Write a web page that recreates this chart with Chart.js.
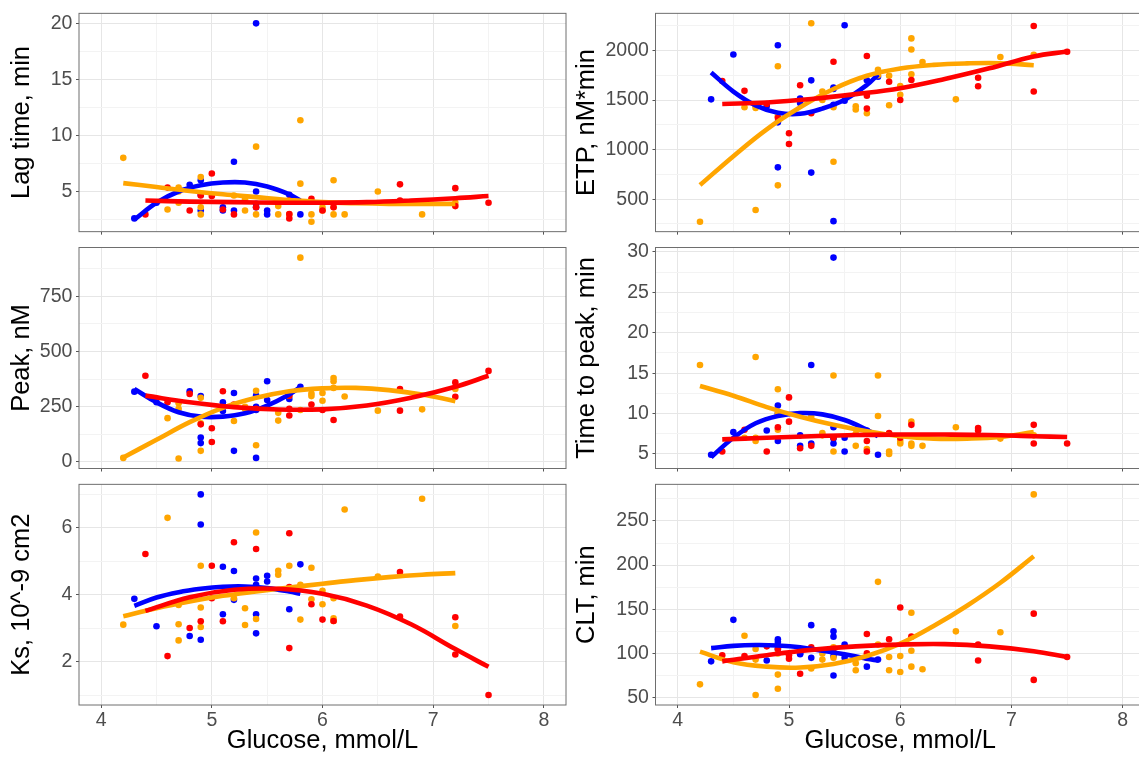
<!DOCTYPE html>
<html>
<head>
<meta charset="utf-8">
<script src="https://cdn.jsdelivr.net/npm/chart.js@4.4.1/dist/chart.umd.min.js"></script>
<style>
  html, body { margin: 0; padding: 0; background: #fff; overflow: hidden; }
  body { width: 1139px; height: 758px; position: relative; }
  canvas { position: absolute; }
</style>
</head>
<body>
<canvas id="lag"></canvas>
<canvas id="etp"></canvas>
<canvas id="peak"></canvas>
<canvas id="ttp"></canvas>
<canvas id="ks"></canvas>
<canvas id="clt"></canvas>
<script>
// Glucose of each patient, per group (the same patients appear in every panel)
const glucoseBlue = [4.3, 4.5, 4.8, 4.9, 4.9, 4.9, 5.1, 5.1, 5.2, 5.2, 5.4, 5.4, 5.4, 5.4, 5.5, 5.5, 5.7, 5.8];
const glucoseRed = [4.4, 4.6, 4.8, 4.9, 5.0, 5.0, 5.1, 5.2, 5.4, 5.7, 5.7, 5.7, 5.9, 6.0, 6.1, 6.7, 6.7, 7.2, 7.2, 7.5];
const glucoseOrange = [4.2, 4.6, 4.7, 4.7, 4.7, 4.9, 4.9, 4.9, 5.2, 5.3, 5.3, 5.4, 5.4, 5.6, 5.6, 5.7, 5.8, 5.8, 5.9, 5.9, 6.0, 6.0, 6.1, 6.1, 6.1, 6.2, 6.5, 6.9, 7.2];

const fitXBlue = [4.3, 4.5, 4.7, 4.9, 5.1, 5.3, 5.5, 5.7, 5.8];
const fitXOrange = [4.2, 4.5, 4.8, 5.1, 5.4, 5.7, 6.0, 6.3, 6.6, 6.9, 7.2];
const fitXRed = [4.4, 4.8, 5.2, 5.6, 6.0, 6.4, 6.8, 7.2, 7.5];

// Lag time, min
const lagBlue = [2.6, 4.0, 5.6, 6.0, 3.3, 4.7, 3.6, 3.3, 7.65, 3.3, 20, 5.0, 3.6, 3.9, 3.3, 2.96, 4.7, 2.96];
const lagRed = [2.96, 5.35, 3.3, 4.65, 6.6, 4.6, 3.4, 2.96, 3.6, 2.6, 4.2, 3.0, 4.35, 3.3, 3.6, 5.64, 4.2, 5.3, 3.7, 4.0];
const lagOrange = [8.0, 3.4, 5.35, 4.0, 5.0, 6.3, 2.96, 3.6, 4.65, 4.3, 3.3, 9.0, 2.96, 2.96, 3.7, 2.96, 11.36, 5.7, 2.3, 2.96, 3.6, 3.3, 6.0, 2.96, 3.6, 2.96, 5.0, 2.96, 4.0];
const lagFitBlue = [2.5, 4.0, 5.0, 5.55, 5.8, 5.8, 5.45, 4.75, 4.2];
const lagFitOrange = [5.75, 5.4, 5.05, 4.75, 4.5, 4.25, 4.05, 3.95, 3.9, 3.9, 3.9];
const lagFitRed = [4.2, 4.1, 4.05, 4.0, 4.0, 4.05, 4.2, 4.4, 4.6];

// ETP, nM*min
const etpBlue = [1507, 1960, 1440, 2053, 1275, 821, 1516, 1470, 1699, 768, 1626, 1612, 1453, 278, 2255, 1493, 1699, 1735];
const etpRed = [1692, 1593, 1460, 1321, 1165, 1056, 1649, 1367, 1887, 1944, 1543, 1414, 1685, 1500, 1702, 1725, 1639, 2248, 1586, 1987];
const etpOrange = [272, 1427, 1420, 391, 1440, 1841, 639, 1340, 2275, 1586, 1500, 1427, 877, 1437, 1404, 1367, 1805, 1750, 1745, 1447, 1642, 1553, 2122, 2010, 1760, 1884, 1507, 1934, 1957];
const etpFitBlue = [1778, 1586, 1447, 1371, 1361, 1414, 1503, 1652, 1758];
const etpFitOrange = [642, 934, 1205, 1427, 1612, 1745, 1818, 1855, 1870, 1872, 1851];
const etpFitRed = [1460, 1475, 1510, 1560, 1620, 1712, 1820, 1940, 1990];

// Peak, nM
const peakBlue = [318, 270, 320, 298, 110, 85, 270, 230, 312, 50, 300, 250, 235, 18, 365, 280, 285, 340];
const peakRed = [390, 270, 308, 170, 152, 90, 320, 260, 240, 210, 300, 240, 260, 235, 190, 330, 232, 360, 295, 412];
const peakOrange = [18, 198, 15, 265, 240, 50, 290, 175, 185, 250, 240, 322, 75, 222, 187, 300, 925, 235, 310, 298, 312, 277, 380, 365, 335, 296, 232, 238, 330];
const peakFitBlue = [330, 270, 225, 205, 205, 220, 255, 305, 340];
const peakFitOrange = [20, 100, 180, 245, 290, 320, 333, 335, 325, 305, 275];
const peakFitRed = [300, 270, 248, 237, 238, 255, 290, 340, 390];

// Time to peak, min
const ttpBlue = [4.9, 7.7, 7.9, 11.0, 10.0, 6.6, 7.3, 6.0, 16.0, 6.3, 29.3, 8.3, 6.9, 6.3, 5.3, 7.0, 7.9, 4.9];
const ttpRed = [5.3, 8.0, 5.3, 8.3, 12.0, 9.0, 5.7, 6.0, 7.0, 6.6, 5.3, 7.5, 7.6, 7.0, 8.6, 8.2, 7.9, 8.6, 6.3, 6.3];
const ttpOrange = [16.0, 7.0, 17.0, 6.6, 7.0, 13.0, 10.0, 8.0, 9.6, 7.6, 7.3, 14.7, 5.3, 6.0, 7.5, 5.6, 14.7, 9.7, 5.3, 5.0, 6.6, 6.3, 9.0, 6.3, 6.0, 6.0, 8.3, 6.9, 7.3];
const ttpFitBlue = [4.6, 7.0, 8.8, 9.7, 10.05, 9.9, 9.2, 8.0, 7.2];
const ttpFitOrange = [13.4, 12.2, 10.8, 9.6, 8.6, 7.8, 7.2, 6.9, 6.9, 7.1, 7.7];
const ttpFitRed = [6.8, 7.0, 7.2, 7.35, 7.4, 7.4, 7.35, 7.2, 7.1];

// Ks, 10^-9 cm2
const ksBlue = [3.88, 3.06, 2.77, 7.0, 6.1, 2.66, 4.84, 3.42, 4.71, 3.85, 4.49, 4.3, 3.42, 2.85, 4.57, 4.4, 3.57, 4.91];
const ksRed = [5.22, 2.17, 3.01, 3.21, 4.87, 3.9, 3.21, 5.57, 5.37, 5.84, 4.23, 2.41, 3.72, 3.26, 3.22, 4.68, 3.35, 3.33, 2.22, 1.01];
const ksOrange = [3.11, 6.3, 3.12, 2.64, 3.7, 4.87, 3.62, 3.04, 3.9, 3.6, 3.1, 5.86, 3.28, 4.72, 4.6, 4.87, 3.26, 4.3, 4.81, 3.87, 4.12, 3.72, 3.9, 3.3, 3.22, 6.55, 4.55, 6.87, 3.07];
const ksFitBlue = [3.67, 3.92, 4.08, 4.18, 4.24, 4.25, 4.2, 4.1, 4.03];
const ksFitOrange = [3.36, 3.6, 3.8, 3.97, 4.1, 4.22, 4.33, 4.44, 4.53, 4.6, 4.65];
const ksFitRed = [3.52, 3.93, 4.15, 4.18, 4.03, 3.68, 3.12, 2.38, 1.85];

// CLT, min
const cltBlue = [91, 138, 92, 116, 113, 105, 99, 100, 132, 95, 125, 119, 97, 75, 95, 110, 85, 93];
const cltRed = [98, 97, 108, 105, 98, 94, 77, 107, 105, 122, 100, 95, 116, 152, 119, 92, 110, 145, 70, 96];
const cltOrange = [65, 120, 105, 93, 53, 76, 60, 100, 83, 100, 93, 107, 95, 89, 81, 96, 181, 110, 96, 81, 97, 79, 146, 103, 85, 82, 125, 124, 280];
const cltFitBlue = [106, 108.5, 109.5, 109, 107, 103, 99, 94, 92];
const cltFitOrange = [102, 90, 85, 84, 88, 97, 111, 131, 154, 180, 210];
const cltFitRed = [91, 98, 104, 108, 110, 110.5, 108, 102.5, 96];

// Axes
const xMajor = [4, 5, 6, 7, 8];
const xMinor = [4.5, 5.5, 6.5, 7.5];
const xRange = [3.8, 8.2];
const lagTicks = [5, 10, 15, 20], lagMinor = [2.5, 7.5, 12.5, 17.5];
const etpTicks = [500, 1000, 1500, 2000], etpMinor = [250, 750, 1250, 1750, 2250];
const peakTicks = [0, 250, 500, 750], peakMinor = [125, 375, 625, 875];
const ttpTicks = [5, 10, 15, 20, 25, 30], ttpMinor = [7.5, 12.5, 17.5, 22.5, 27.5];
const ksTicks = [2, 4, 6], ksMinor = [1, 3, 5, 7];
const cltTicks = [50, 100, 150, 200, 250], cltMinor = [75, 125, 175, 225, 275];

const BLUE = '#0000FF', RED = '#FF0000', ORANGE = '#FFA500';
const FONT = 'Liberation Sans, Arial, sans-serif';

// page geometry of the two columns and three rows
const cols = [
  { left: 0, width: 575, areaLeft: 79, areaRight: 566, titlePad: 6.9 },
  { left: 570, width: 580, areaLeft: 85.5, areaRight: 575, titlePad: 1.2 }
];
const rows = [
  { top: 0, height: 245, areaTop: 11, areaBottom: 232, xH: 10 },
  { top: 234, height: 248, areaTop: 13.5, areaBottom: 234.5, xH: 10 },
  { top: 471, height: 287, areaTop: 13, areaBottom: 234, xH: 51.6 }
];

const panelBorder = {
  id: 'panelBorder',
  afterDatasetsDraw(chart) {
    const { ctx, chartArea: a } = chart;
    ctx.save();
    ctx.strokeStyle = '#6e6e6e';
    ctx.lineWidth = 1;
    ctx.strokeRect(a.left, a.top, a.right - a.left, a.bottom - a.top);
    ctx.restore();
  }
};

function pts(xs, ys) {
  return xs.map((x, i) => ({ x: x, y: ys[i] }));
}

function pointSet(xs, ys, color, order) {
  return { data: pts(xs, ys), backgroundColor: color, borderWidth: 0, pointRadius: 3.3, order: order };
}

function lineSet(xs, ys, color, order) {
  return { data: pts(xs, ys), showLine: true, borderColor: color, borderWidth: 4.6, borderCapStyle: 'butt',
           pointRadius: 0, tension: 0.4, fill: false, order: order };
}

function makePanel(id, title, col, row, yRange, major, minor, s) {
  const c = cols[col], r = rows[row];
  const el = document.getElementById(id);
  el.width = c.width; el.height = r.height;
  el.style.left = c.left + 'px'; el.style.top = r.top + 'px';
  el.style.width = c.width + 'px'; el.style.height = r.height + 'px';
  const bottomRow = row === 2;
  const padB = r.height - r.areaBottom - r.xH;
  const yAll = minor.concat(major).sort((a, b) => a - b);
  const xAll = xMinor.concat(xMajor).sort((a, b) => a - b);

  new Chart(el, {
    type: 'scatter',
    data: {
      datasets: [
        lineSet(fitXRed, s.fitRed, RED, 0),
        lineSet(fitXOrange, s.fitOrange, ORANGE, 1),
        lineSet(fitXBlue, s.fitBlue, BLUE, 2),
        pointSet(glucoseRed, s.red, RED, 3),
        pointSet(glucoseOrange, s.orange, ORANGE, 4),
        pointSet(glucoseBlue, s.blue, BLUE, 5)
      ]
    },
    options: {
      responsive: false,
      animation: false,
      devicePixelRatio: 1,
      layout: { padding: { left: 0, right: c.width - c.areaRight, top: r.areaTop, bottom: padB } },
      plugins: { legend: { display: false }, tooltip: { enabled: false } },
      scales: {
        x: {
          type: 'linear', min: xRange[0], max: xRange[1],
          afterBuildTicks: sc => { sc.ticks = xAll.map(v => ({ value: v })); },
          afterFit: sc => { sc.height = r.xH; },
          border: { display: false },
          grid: {
            color: ctx => (ctx.tick && xMajor.includes(ctx.tick.value)) ? '#e6e6e6' : '#f3f3f3',
            tickColor: ctx => (ctx.tick && xMajor.includes(ctx.tick.value)) ? '#555' : 'rgba(0,0,0,0)',
            tickLength: 3, lineWidth: 1
          },
          ticks: {
            display: bottomRow, autoSkip: false, maxRotation: 0, padding: 2.5,
            font: { family: FONT, size: 19.5, lineHeight: 1 }, color: '#4d4d4d',
            callback: v => xMajor.includes(v) ? String(v) : ''
          },
          title: {
            display: bottomRow, text: 'Glucose, mmol/L', color: '#000',
            font: { family: FONT, size: 25.5 }, padding: { top: 0, bottom: 0 }
          }
        },
        y: {
          type: 'linear', min: yRange[0], max: yRange[1],
          afterBuildTicks: sc => { sc.ticks = yAll.map(v => ({ value: v })); },
          afterFit: sc => { sc.width = c.areaLeft; },
          border: { display: false },
          grid: {
            color: ctx => (ctx.tick && major.includes(ctx.tick.value)) ? '#e6e6e6' : '#f3f3f3',
            tickColor: ctx => (ctx.tick && major.includes(ctx.tick.value)) ? '#555' : 'rgba(0,0,0,0)',
            tickLength: 3, lineWidth: 1
          },
          ticks: {
            autoSkip: false, padding: 3.6,
            font: { family: FONT, size: 19.5, lineHeight: 1 }, color: '#4d4d4d',
            callback: v => major.includes(v) ? String(v) : ''
          },
          title: {
            display: true, text: title, color: '#000',
            font: { family: FONT, size: 25.5 }, padding: { top: c.titlePad, bottom: 0 }
          }
        }
      }
    },
    plugins: [panelBorder]
  });
}

makePanel('lag', 'Lag time, min', 0, 0, [1.42, 20.89], lagTicks, lagMinor,
  { blue: lagBlue, red: lagRed, orange: lagOrange, fitBlue: lagFitBlue, fitRed: lagFitRed, fitOrange: lagFitOrange });
makePanel('etp', 'ETP, nM*min', 1, 0, [172, 2375], etpTicks, etpMinor,
  { blue: etpBlue, red: etpRed, orange: etpOrange, fitBlue: etpFitBlue, fitRed: etpFitRed, fitOrange: etpFitOrange });
makePanel('peak', 'Peak, nM', 0, 1, [-30, 971], peakTicks, peakMinor,
  { blue: peakBlue, red: peakRed, orange: peakOrange, fitBlue: peakFitBlue, fitRed: peakFitRed, fitOrange: peakFitOrange });
makePanel('ttp', 'Time to peak, min', 1, 1, [3.2, 30.55], ttpTicks, ttpMinor,
  { blue: ttpBlue, red: ttpRed, orange: ttpOrange, fitBlue: ttpFitBlue, fitRed: ttpFitRed, fitOrange: ttpFitOrange });
makePanel('ks', 'Ks, 10^-9 cm2', 0, 2, [0.71, 7.3], ksTicks, ksMinor,
  { blue: ksBlue, red: ksRed, orange: ksOrange, fitBlue: ksFitBlue, fitRed: ksFitRed, fitOrange: ksFitOrange });
makePanel('clt', 'CLT, min', 1, 2, [41.6, 291.4], cltTicks, cltMinor,
  { blue: cltBlue, red: cltRed, orange: cltOrange, fitBlue: cltFitBlue, fitRed: cltFitRed, fitOrange: cltFitOrange });
</script>
</body>
</html>
